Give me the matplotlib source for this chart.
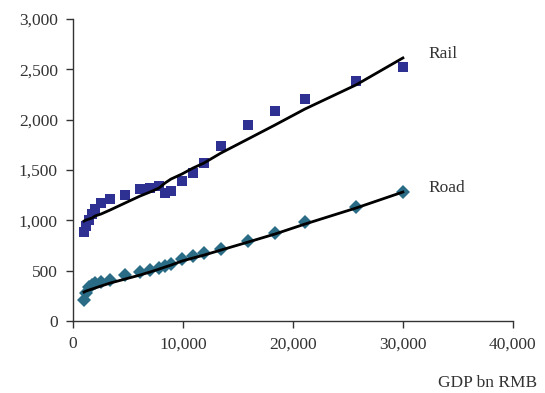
import matplotlib.pyplot as plt
from matplotlib.ticker import FuncFormatter

# GDP (bn RMB) for each observation
gdp = [1000, 1180, 1450, 1730, 2000, 2550, 3360, 4730, 6090, 7000, 7820,
       8360, 8910, 9910, 10910, 11910, 13450, 15910, 18360, 21090, 25730, 30000]

rail = [884, 943, 1003, 1063, 1112, 1172, 1211, 1251, 1311, 1321, 1341,
        1271, 1291, 1390, 1470, 1569, 1738, 1946, 2085, 2205, 2383, 2522]
rail_fit = [993, 1003, 1013, 1023, 1043, 1063, 1102, 1172, 1241, 1281, 1321,
            1370, 1410, 1460, 1519, 1569, 1668, 1807, 1946, 2105, 2344, 2612]

road = [209, 278, 338, 358, 377, 387, 407, 457, 487, 506, 526,
        546, 566, 616, 645, 675, 715, 794, 874, 983, 1132, 1281]
road_fit = [288, 298, 308, 318, 328, 348, 377, 417, 457, 487, 516,
            536, 556, 596, 626, 655, 705, 784, 864, 963, 1122, 1281]

plt.rcParams['font.family'] = ['Liberation Serif', 'DejaVu Serif']
txt = '#333333'

fig = plt.figure(figsize=(5.45, 3.93), dpi=100)
ax = fig.add_axes([0.134, 0.183, 0.807, 0.769])

ax.plot(gdp, rail, 's', color='#2E3192', markersize=6.5, markeredgewidth=0, zorder=2)
ax.plot(gdp, road, 'D', color='#2A6C86', markersize=7, markeredgewidth=0, zorder=2)
ax.plot(gdp, rail_fit, '-', color='black', lw=2, zorder=3)
ax.plot(gdp, road_fit, '-', color='black', lw=2, zorder=3)

ax.set_xlim(0, 40000)
ax.set_ylim(0, 3000)
ax.set_xticks(range(0, 40001, 10000))
ax.set_yticks(range(0, 3001, 500))
fmt = FuncFormatter(lambda v, p: f'{int(v):,}')
ax.xaxis.set_major_formatter(fmt)
ax.yaxis.set_major_formatter(fmt)

for s in ['top', 'right']:
    ax.spines[s].set_visible(False)
for s in ['left', 'bottom']:
    ax.spines[s].set_color('#333333')
    ax.spines[s].set_linewidth(1)
ax.tick_params(direction='out', length=5, width=1, colors='#333333',
               labelsize=12.5, labelcolor=txt, pad=6)

ax.text(32300, 2650, 'Rail', fontsize=12.5, color=txt, va='center')
ax.text(32300, 1320, 'Road', fontsize=12.5, color=txt, va='center')
fig.text(0.986, 0.026, 'GDP bn RMB', fontsize=12.5, color=txt, ha='right', va='center')

fig.savefig('out.png', dpi=100)
